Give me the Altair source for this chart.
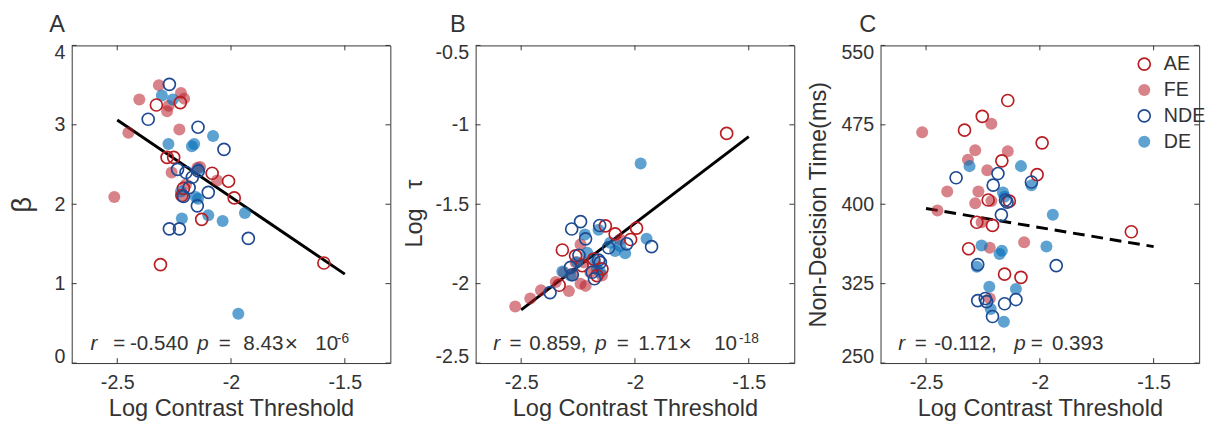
import altair as alt
import pandas as pd

FONT = "Liberation Sans"
TXT = "#333333"
AE_COL = "#B81D22"
NDE_COL = "#1F4A92"
FE_FILL = "rgba(184,29,40,0.55)"
DE_FILL = "rgba(11,114,185,0.66)"
NONE = "rgba(0,0,0,0)"

groups = ["AE", "FE", "NDE", "DE"]

# ---------------- Panel A (beta) ----------------
a_ae_x = [-2.328, -2.223, -2.281, -2.252, -2.083, -2.011, -1.986, -2.209, -2.129, -2.310, -1.592, -2.216]
a_ae_y = [3.25, 3.28, 2.59, 2.59, 2.39, 2.29, 2.08, 2.20, 1.81, 1.24, 1.26, 2.11]
a_fe_x = [-2.317, -2.403, -2.220, -2.206, -2.281, -2.274, -2.451, -2.227, -2.513, -2.261, -2.136, -2.061, -2.213, -2.148, -2.198]
a_fe_y = [3.50, 3.32, 3.40, 3.33, 3.17, 3.24, 2.90, 2.94, 2.09, 2.40, 2.47, 2.30, 2.11, 2.46, 2.25]
a_nde_x = [-2.271, -2.364, -2.145, -2.031, -2.235, -2.198, -2.144, -2.170, -2.100, -2.209, -2.148, -2.271, -2.227, -1.924, -2.184]
a_nde_y = [3.51, 3.07, 2.97, 2.69, 2.44, 2.40, 2.42, 2.34, 2.15, 2.10, 1.98, 1.69, 1.69, 1.57, 2.21]
a_de_x = [-2.304, -2.256, -2.275, -2.172, -2.162, -2.079, -2.144, -2.220, -2.155, -2.145, -2.216, -2.100, -2.037, -1.939, -1.968]
a_de_y = [3.37, 3.32, 2.76, 2.73, 2.76, 2.86, 2.44, 2.16, 2.09, 2.07, 1.82, 1.86, 1.79, 1.89, 0.62]
a_fit_x = [-2.5, -1.5]
a_fit_y = [3.06, 1.12]

# ---------------- Panel B (log tau) ----------------
b_ae_x = [-1.597, -2.319, -2.261, -2.130, -2.087, -1.993, -2.019, -2.333, -2.145, -2.181, -2.232, -2.167]
b_ae_y = [-1.054, -1.788, -1.825, -1.636, -1.687, -1.650, -1.722, -2.010, -1.907, -1.846, -1.887, -1.949]
b_fe_x = [-2.526, -2.460, -2.413, -2.290, -2.239, -2.217, -2.348, -2.275, -2.145, -2.225, -2.239, -2.196, -2.312, -2.065, -2.261]
b_fe_y = [-2.144, -2.093, -2.041, -2.047, -2.000, -2.014, -1.990, -1.949, -1.949, -1.866, -1.753, -1.928, -1.928, -1.722, -1.866]
b_nde_x = [-2.239, -2.278, -2.155, -2.217, -2.036, -1.927, -2.116, -2.246, -2.160, -2.283, -2.188, -2.178, -2.373, -2.152, -2.275]
b_nde_y = [-1.609, -1.656, -1.634, -1.718, -1.749, -1.767, -1.774, -1.821, -1.852, -1.897, -1.928, -1.969, -2.056, -1.866, -1.944]
b_de_x = [-1.975, -1.949, -2.160, -2.220, -2.109, -2.087, -2.043, -2.065, -2.210, -2.174, -2.167, -2.319, -2.283, -2.152, -2.254]
b_de_y = [-1.243, -1.718, -1.660, -1.691, -1.743, -1.794, -1.809, -1.763, -1.805, -1.866, -1.907, -1.924, -1.949, -1.928, -1.866]
b_fit_x = [-2.5, -1.5]
b_fit_y = [-2.165, -1.074]

# ---------------- Panel C (non-decision time) ----------------
c_ae_x = [-2.141, -2.253, -2.331, -1.990, -2.167, -2.012, -2.227, -2.134, -2.277, -2.208, -1.598, -2.313, -2.155, -2.083]
c_ae_y = [498, 483, 470, 458, 441, 428, 404, 403, 383, 380, 374, 358, 334, 331]
c_fe_x = [-2.517, -2.213, -2.284, -2.141, -2.316, -2.231, -2.407, -2.270, -2.284, -2.213, -2.450, -2.256, -2.069, -2.220, -2.220]
c_fe_y = [468, 476, 451, 450, 442, 432, 412, 412, 401, 403, 394, 383, 364, 359, 311]
c_nde_x = [-2.368, -2.184, -2.205, -2.037, -2.151, -2.144, -2.169, -2.273, -1.928, -2.273, -2.234, -2.155, -2.105, -2.208, -2.240]
c_nde_y = [425, 429, 418, 421, 404, 402, 390, 343, 342, 309, 308, 306, 310, 294, 311]
c_de_x = [-2.309, -2.083, -2.162, -2.037, -1.943, -2.256, -2.167, -2.177, -1.971, -2.277, -2.222, -2.105, -2.216, -2.158, -2.155]
c_de_y = [436, 436, 411, 418, 390, 361, 356, 353, 360, 341, 322, 320, 301, 289, 407]
c_fit_x = [-2.5, -1.5]
c_fit_y = [396, 360]

# axis ticks
x_ticks = [-2.5, -2, -1.5]
a_y_ticks = [0, 1, 2, 3, 4]
b_y_ticks = [-2.5, -2, -1.5, -1, -0.5]
c_y_ticks = [250, 325, 400, 475, 550]

# panel letters (anchored in data units, above the top-left corner)
letters = ["A", "B", "C"]
letter_x = [-2.799, -2.813, -2.793]
letter_y = [4.173, -0.4136, 563.0]

# statistics annotations (text pieces, anchored in data units)
a_ann_text = ["r", "=", "-0.540", "p", "=", "8.43", "×", "10", "-6"]
a_ann_x = [-2.617, -2.517, -2.444, -2.149, -2.054, -1.946, -1.764, -1.630, -1.535]
a_ann_y = [0.235] * 8 + [0.30]
b_ann_text = ["r", "=", "0.859,", "p", "=", "1.71", "×", "10", "-18"]
b_ann_x = [-2.623, -2.551, -2.464, -2.174, -2.080, -1.986, -1.809, -1.652, -1.543]
b_ann_y = [-2.383] * 8 + [-2.346]
c_ann_text = ["r", "=", "-0.112,", "p", "=", "0.393"]
c_ann_x = [-2.622, -2.550, -2.464, -2.112, -2.040, -1.947]
c_ann_y = [267.6] * 6
ann_style_ab = ["i", "n", "n", "i", "n", "n", "x", "n", "s"]
ann_style_c = ["i", "n", "n", "i", "n", "n"]

W, H = 325, 324
X_DOM = [-2.7, -1.3]


def points_df(ae_x, ae_y, fe_x, fe_y, nde_x, nde_y, de_x, de_y):
    rows = []
    for g, xs, ys in [("FE", fe_x, fe_y), ("DE", de_x, de_y), ("AE", ae_x, ae_y), ("NDE", nde_x, nde_y)]:
        for xv, yv in zip(xs, ys):
            rows.append({"x": xv, "y": yv, "g": g})
    return pd.DataFrame(rows)


def panel(idx, pts, fit_x, fit_y, dashed, y_dom, y_ticks, y_title, ann_text, ann_x, ann_y,
          ann_style, legend, title_pad, title_size=24, title_y=None):
    xs = alt.Scale(domain=X_DOM, nice=False, zero=False)
    ys = alt.Scale(domain=y_dom, nice=False, zero=False)
    x_axis = alt.Axis(values=x_ticks, title="Log Contrast Threshold",
                      labelExpr="toString(datum.value)", ticks=False, tickSize=0,
                      domain=False, grid=False, labelPadding=10, titlePadding=4)
    y_kw = dict(values=y_ticks, title=y_title, labelExpr="toString(datum.value)",
                ticks=False, tickSize=0, domain=False, grid=False,
                labelPadding=7, titlePadding=title_pad, labelFlush=True, labelFlushOffset=3,
                titleFontSize=title_size)
    if title_y is not None:
        y_kw["titleY"] = title_y
    y_axis = alt.Axis(**y_kw)

    def X(f="x"):
        return alt.X(f + ":Q", scale=xs, axis=x_axis)

    def Y(f="y"):
        return alt.Y(f + ":Q", scale=ys, axis=y_axis)

    pts_layer = alt.Chart(pts).mark_point(shape="circle", size=150, strokeWidth=1.7, opacity=1).encode(
        x=X(), y=Y(),
        fill=alt.Fill("g:N", scale=alt.Scale(domain=groups, range=[NONE, FE_FILL, NONE, DE_FILL]), legend=legend),
        stroke=alt.Stroke("g:N", scale=alt.Scale(domain=groups, range=[AE_COL, NONE, NDE_COL, NONE]), legend=legend),
    )

    fit = pd.DataFrame({"x": fit_x, "y": fit_y})
    line_kw = dict(color="black", strokeWidth=3)
    if dashed:
        line_kw["strokeDash"] = [12, 7]
    fit_layer = alt.Chart(fit).mark_line(**line_kw).encode(x=X(), y=Y())

    # inward tick marks on all four sides
    tx = 5 * (X_DOM[1] - X_DOM[0]) / W
    ty = 5 * (y_dom[1] - y_dom[0]) / H
    trows = []
    for v in x_ticks:
        trows.append({"x": v, "x2": v, "y": y_dom[0], "y2": y_dom[0] + ty})
        trows.append({"x": v, "x2": v, "y": y_dom[1], "y2": y_dom[1] - ty})
    for v in y_ticks:
        trows.append({"x": X_DOM[0], "x2": X_DOM[0] + tx, "y": v, "y2": v})
        trows.append({"x": X_DOM[1], "x2": X_DOM[1] - tx, "y": v, "y2": v})
    tick_layer = alt.Chart(pd.DataFrame(trows)).mark_rule(color=TXT, strokeWidth=1).encode(
        x=X(), x2="x2:Q", y=Y(), y2="y2:Q")

    ann = pd.DataFrame({"x": ann_x, "y": ann_y, "t": ann_text, "s": ann_style})
    base = alt.Chart(ann).encode(x=X(), y=Y(), text="t:N")
    mk = dict(align="left", baseline="middle", font=FONT, color=TXT)
    t_norm = base.mark_text(fontSize=21, **mk).transform_filter("datum.s == 'n'")
    t_ital = base.mark_text(fontSize=21, fontStyle="italic", **mk).transform_filter("datum.s == 'i'")
    t_times = base.mark_text(fontSize=23, **mk).transform_filter("datum.s == 'x'")
    t_sup = base.mark_text(fontSize=14, **mk).transform_filter("datum.s == 's'")

    let = pd.DataFrame({"x": [letter_x[idx]], "y": [letter_y[idx]], "t": [letters[idx]]})
    t_let = alt.Chart(let).mark_text(align="left", baseline="alphabetic", font=FONT, fontSize=24,
                                     color=TXT).encode(x=X(), y=Y(), text="t:N")

    return alt.layer(tick_layer, fit_layer, pts_layer, t_norm, t_ital, t_times, t_sup, t_let).properties(
        width=W, height=H)


leg = alt.Legend(orient="none", legendX=259, legendY=9, title=None, padding=0,
                 labelFont=FONT, labelFontSize=20, labelColor=TXT, labelOffset=10,
                 symbolType="circle", symbolSize=150, symbolStrokeWidth=1.7, symbolOpacity=1,
                 rowPadding=6.4)

NB = "\u00a0"

pa = panel(0, points_df(a_ae_x, a_ae_y, a_fe_x, a_fe_y, a_nde_x, a_nde_y, a_de_x, a_de_y),
           a_fit_x, a_fit_y, False, [0, 4], a_y_ticks, "β",
           a_ann_text, a_ann_x, a_ann_y, ann_style_ab, None, 18, title_size=28)
pb = panel(1, points_df(b_ae_x, b_ae_y, b_fe_x, b_fe_y, b_nde_x, b_nde_y, b_de_x, b_de_y),
           b_fit_x, b_fit_y, False, [-2.5, -0.5], b_y_ticks, "Log" + NB * 3 + "τ",
           b_ann_text, b_ann_x, b_ann_y, ann_style_ab, None, 9, title_y=171)
pc = panel(2, points_df(c_ae_x, c_ae_y, c_fe_x, c_fe_y, c_nde_x, c_nde_y, c_de_x, c_de_y),
           c_fit_x, c_fit_y, True, [250, 550], c_y_ticks, "Non-Decision Time(ms)",
           c_ann_text, c_ann_x, c_ann_y, ann_style_c, leg, 11)

chart = alt.hconcat(pa, pb, pc, spacing=11).resolve_scale(
    fill="independent", stroke="independent").resolve_legend(
    fill="independent", stroke="independent").properties(padding=0).configure_view(
    stroke=TXT, strokeWidth=1).configure_axis(
    labelFont=FONT, labelFontSize=20, labelColor=TXT, titleFont=FONT, titleFontSize=24,
    titleFontWeight="normal", titleColor=TXT)

chart.save("out.html", embed_options={"renderer": "svg", "actions": False})
